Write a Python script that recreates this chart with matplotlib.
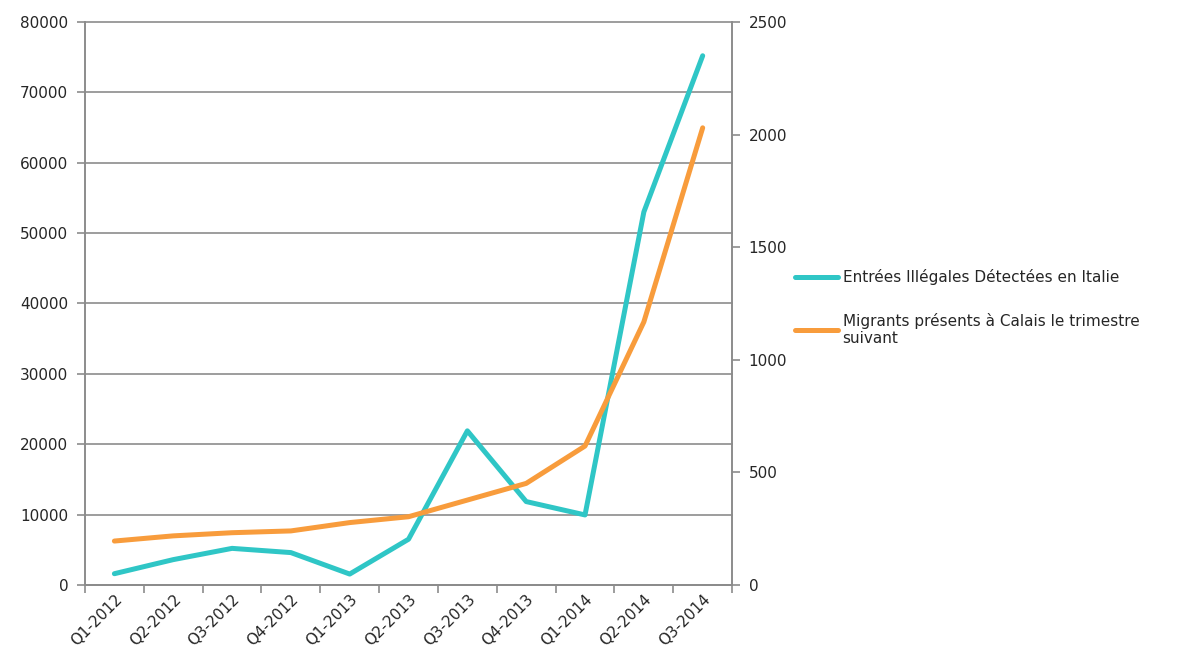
import numpy as np
import matplotlib
matplotlib.use("Agg")
import matplotlib.pyplot as plt

quarters = ["Q1-2012", "Q2-2012", "Q3-2012", "Q4-2012", "Q1-2013", "Q2-2013",
            "Q3-2013", "Q4-2013", "Q1-2014", "Q2-2014", "Q3-2014"]
entrees_italie = [1600, 3600, 5200, 4600, 1550, 6500, 21900, 11850, 9950, 53000, 75200]
migrants_calais = [195, 218, 232, 240, 277, 303, 377, 451, 617, 1168, 2030]

teal = "#2fc6c6"
orange = "#f89c3c"
grey = "#8c8c8c"
txt = "#262626"

plt.rcParams["font.family"] = "DejaVu Sans"

fig = plt.figure(figsize=(11.77, 6.58), dpi=100)
ax = fig.add_axes([0.0722, 0.111, 0.5498, 0.8556])
ax2 = ax.twinx()

x = np.arange(len(quarters))
l1, = ax.plot(x, entrees_italie, color=teal, lw=3.6, solid_capstyle="round",
              label="Entrées Illégales Détectées en Italie", zorder=3)
l2, = ax2.plot(x, migrants_calais, color=orange, lw=3.6, solid_capstyle="round",
               label="Migrants présents à Calais le trimestre\nsuivant", zorder=3)

ax.set_xlim(-0.5, len(quarters) - 0.5)
ax.set_ylim(0, 80000)
ax2.set_ylim(0, 2500)
ax.set_yticks(np.arange(0, 80001, 10000))
ax2.set_yticks(np.arange(0, 2501, 500))

# tick marks at category borders, labels at centres
ax.set_xticks(np.arange(-0.5, len(quarters)), [])
ax.set_xticks(x, quarters, minor=True)
ax.tick_params(axis="x", which="major", length=6, width=1.2, color=grey, direction="out")
ax.tick_params(axis="x", which="minor", length=0, pad=5)
for lab in ax.get_xticklabels(minor=True):
    lab.set_rotation(45)
    lab.set_ha("right")
    lab.set_rotation_mode("anchor")
    lab.set_fontsize(11)
    lab.set_color(txt)

ax.tick_params(axis="y", length=6, width=1.2, color=grey, labelsize=11, labelcolor=txt, pad=6)
ax2.tick_params(axis="y", length=6, width=1.2, color=grey, labelsize=11, labelcolor=txt, pad=6)

ax.grid(axis="y", color=grey, lw=1.2)
for gl in ax.get_ygridlines():
    gl.set_clip_on(False)
ax.set_axisbelow(True)
for a in (ax, ax2):
    a.spines["top"].set_visible(False)
    for s in ("left", "right", "bottom"):
        a.spines[s].set_color(grey)
        a.spines[s].set_linewidth(1.2)

fig.legend(handles=[l1, l2], loc="upper left", bbox_to_anchor=(0.664, 0.612),
           frameon=False, fontsize=11, handlelength=2.8, handletextpad=0.3,
           labelspacing=1.8, labelcolor=txt)

fig.savefig("out.png", dpi=100, facecolor="white")
